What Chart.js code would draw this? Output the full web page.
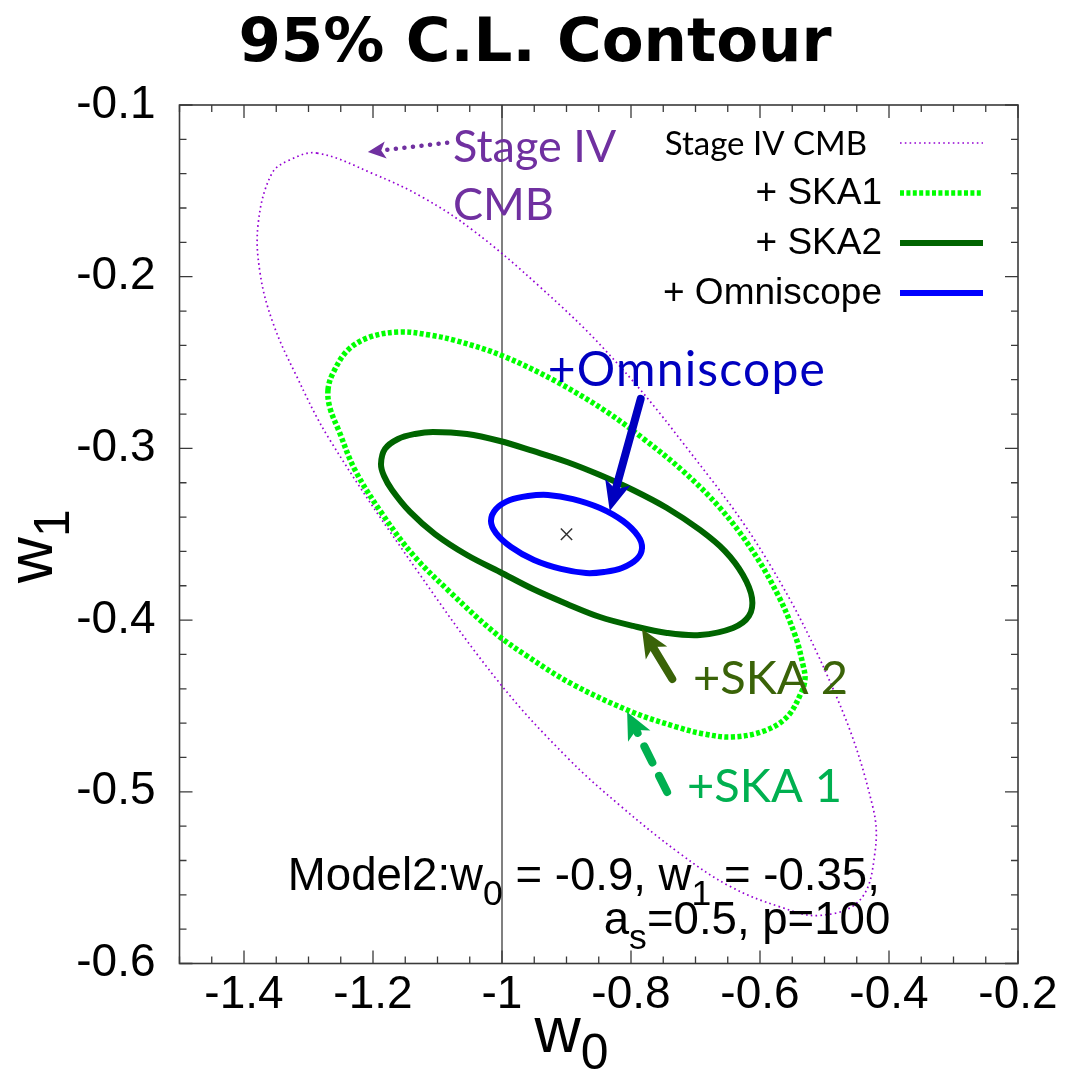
<!DOCTYPE html>
<html><head><meta charset="utf-8">
<script src="https://cdn.jsdelivr.net/npm/chart.js@4"></script>
<style>html,body{margin:0;padding:0;background:#fff;}#wrap{width:1066px;height:1071px;}</style>
</head><body><div id="wrap"><canvas id="c" width="1066" height="1071"></canvas></div>
<script>
// ---------- data ----------
const xTicks = [-1.4, -1.2, -1, -0.8, -0.6, -0.4, -0.2];
const yTicks = [-0.1, -0.2, -0.3, -0.4, -0.5, -0.6];

const cmbW0 = [-1.287, -1.200, -1.122, -1.045, -0.941, -0.837, -0.719, -0.589, -0.481, -0.425, -0.422, -0.445, -0.507, -0.569, -0.647, -0.724, -0.817, -0.899, -1.003, -1.132, -1.267, -1.321, -1.355, -1.375, -1.378, -1.357, -1.329];
const cmbW1 = [-0.128, -0.140, -0.154, -0.173, -0.206, -0.244, -0.297, -0.365, -0.445, -0.509, -0.536, -0.563, -0.572, -0.567, -0.555, -0.536, -0.508, -0.480, -0.437, -0.371, -0.295, -0.256, -0.227, -0.198, -0.169, -0.140, -0.132];

const ska1W0 = [-1.2698, -1.2620, -1.2388, -1.2047, -1.1581, -1.1116, -1.0698, -0.9984, -0.9147, -0.8372, -0.7783, -0.7194, -0.6620, -0.6124, -0.5721, -0.5457, -0.5333, -0.5302, -0.5364, -0.5581, -0.5938, -0.6434, -0.6868, -0.7287, -0.7984, -0.8915, -0.9612, -1.0109, -1.0791, -1.1364, -1.1845, -1.2279, -1.2527, -1.2667];
const ska1W1 = [-0.2660, -0.2561, -0.2427, -0.2351, -0.2322, -0.2340, -0.2374, -0.2462, -0.2613, -0.2788, -0.2951, -0.3132, -0.3347, -0.3592, -0.3854, -0.4087, -0.4262, -0.4343, -0.4425, -0.4564, -0.4646, -0.4681, -0.4663, -0.4623, -0.4535, -0.4372, -0.4209, -0.4075, -0.3842, -0.3627, -0.3388, -0.3126, -0.2899, -0.2765];

const ska2W0 = [-1.1876, -1.1814, -1.1612, -1.1349, -1.1070, -1.0543, -1.0031, -0.9519, -0.8992, -0.8481, -0.7969, -0.7442, -0.6930, -0.6543, -0.6264, -0.6124, -0.6171, -0.6419, -0.6930, -0.7442, -0.7969, -0.8481, -0.8992, -0.9519, -1.0031, -1.0543, -1.1039, -1.1426, -1.1705, -1.1829];
const ska2W1 = [-0.3091, -0.3003, -0.2945, -0.2916, -0.2904, -0.2916, -0.2957, -0.3015, -0.3079, -0.3155, -0.3242, -0.3347, -0.3475, -0.3598, -0.3737, -0.3871, -0.3976, -0.4046, -0.4087, -0.4075, -0.4034, -0.3982, -0.3906, -0.3819, -0.3720, -0.3621, -0.3499, -0.3370, -0.3242, -0.3161];

const omniW0 = [-1.0171, -1.0093, -0.9876, -0.9597, -0.9287, -0.8899, -0.8481, -0.8124, -0.7891, -0.7829, -0.7907, -0.8140, -0.8419, -0.8698, -0.9085, -0.9504, -0.9860, -1.0093];
const omniW1 = [-0.3423, -0.3353, -0.3301, -0.3277, -0.3271, -0.3295, -0.3347, -0.3423, -0.3510, -0.3580, -0.3644, -0.3697, -0.3720, -0.3726, -0.3702, -0.3650, -0.3574, -0.3493];

const fidW0 = [-0.9];
const fidW1 = [-0.35];

const refLineW0 = [-1, -1];
const refLineW1 = [-0.1, -0.6];

const seriesLabels = ['Stage IV CMB', '+ SKA1', '+ SKA2', '+ Omniscope'];

// ---------- helpers ----------
const pts = (xs, ys) => xs.map((x, i) => ({x: x, y: ys[i]}));
const SANS = '"Liberation Sans", Arial, Helvetica, sans-serif';
const HUM = 'Lato, "Open Sans", sans-serif';

function richWidth(ctx, parts, size, family) {
  let w = 0;
  parts.forEach(p => { ctx.font = (p.sub ? size * 0.78 : size) + 'px ' + family; w += ctx.measureText(p.t).width; });
  return w;
}
function drawRich(ctx, parts, x, y, size, family, align, subShift) {
  let cx = align === 'right' ? x - richWidth(ctx, parts, size, family) : x;
  ctx.textAlign = 'left'; ctx.textBaseline = 'alphabetic';
  parts.forEach(p => {
    ctx.font = (p.sub ? size * 0.78 : size) + 'px ' + family;
    ctx.fillText(p.t, cx, p.sub ? y + subShift : y);
    cx += ctx.measureText(p.t).width;
  });
}
function arrow(ctx, x1, y1, x2, y2, o) {
  const ang = Math.atan2(y2 - y1, x2 - x1);
  const bx = x2 - o.head * Math.cos(ang), by = y2 - o.head * Math.sin(ang);
  ctx.save();
  ctx.strokeStyle = o.color; ctx.fillStyle = o.color; ctx.lineWidth = o.width;
  ctx.lineCap = o.cap || 'round';
  if (o.dash) ctx.setLineDash(o.dash);
  ctx.beginPath(); ctx.moveTo(x1, y1);
  ctx.lineTo(x2 - (o.head * 0.8) * Math.cos(ang), y2 - (o.head * 0.8) * Math.sin(ang));
  ctx.stroke();
  ctx.setLineDash([]);
  const hw = o.hw / 2;
  ctx.beginPath();
  ctx.moveTo(x2, y2);
  ctx.lineTo(bx + hw * Math.sin(ang), by - hw * Math.cos(ang));
  ctx.lineTo(bx + o.head * 0.25 * Math.cos(ang), by + o.head * 0.25 * Math.sin(ang));
  ctx.lineTo(bx - hw * Math.sin(ang), by + hw * Math.cos(ang));
  ctx.closePath(); ctx.fill();
  ctx.restore();
}

// close contour loops smoothly
const loopPlugin = {
  id: 'loopClose',
  afterDatasetUpdate(chart, args) {
    const ds = chart.data.datasets[args.index];
    if (ds.closed) {
      const line = args.meta.dataset;
      line._loop = true; line._fullLoop = true;
      line._segments = undefined; line._pointsUpdated = false; line._path = undefined;
    }
  }
};

// frame with inward ticks on four sides
const framePlugin = {
  id: 'frame',
  afterDatasetsDraw(chart) {
    const {ctx, chartArea: a, scales: {x, y}} = chart;
    ctx.save();
    ctx.strokeStyle = '#3a3a3a'; ctx.lineWidth = 1.6;
    ctx.strokeRect(a.left, a.top, a.right - a.left, a.bottom - a.top);
    ctx.lineWidth = 1.3;
    ctx.beginPath();
    for (let i = 0; i <= 26; i++) {
      const v = -1.5 + i * 0.05;
      const major = Math.abs(Math.round(v * 5) - v * 5) < 1e-6;
      const L = major ? 13 : 7;
      const px = x.getPixelForValue(v);
      ctx.moveTo(px, a.bottom); ctx.lineTo(px, a.bottom - L);
      ctx.moveTo(px, a.top); ctx.lineTo(px, a.top + L);
    }
    for (let i = 0; i <= 25; i++) {
      const v = -0.6 + i * 0.02;
      const major = Math.abs(Math.round(v * 10) - v * 10) < 1e-6;
      const L = major ? 13 : 7;
      const py = y.getPixelForValue(v);
      ctx.moveTo(a.left, py); ctx.lineTo(a.left + L, py);
      ctx.moveTo(a.right, py); ctx.lineTo(a.right - L, py);
    }
    ctx.stroke();
    ctx.restore();
  }
};

// legend, annotations, titles
const decorPlugin = {
  id: 'decor',
  afterDraw(chart) {
    const {ctx, chartArea: a, scales: {x, y}} = chart;
    const X = v => x.getPixelForValue(v), Y = v => y.getPixelForValue(v);
    ctx.save();

    // title
    ctx.fillStyle = '#000';
    ctx.font = 'bold 61px "DejaVu Sans", Verdana, sans-serif';
    ctx.textAlign = 'center'; ctx.textBaseline = 'alphabetic';
    ctx.fillText('95% C.L. Contour', 535, 61);

    // axis titles
    drawRich(ctx, [{t: 'w'}, {t: '0', sub: true}], a.left + 355, a.bottom + 88, 64, SANS, 'left', 17);
    ctx.save();
    ctx.translate(a.left - 128, (a.top + a.bottom) / 2 + 49);
    ctx.rotate(-Math.PI / 2);
    drawRich(ctx, [{t: 'w'}, {t: '1', sub: true}], 0, 0, 64, SANS, 'left', 17);
    ctx.restore();

    // legend
    const ds = chart.data.datasets;
    for (let i = 0; i < 4; i++) {
      const d = ds[i];
      const ry = a.top + 38 + 50 * i;
      const x2 = a.right - 35, x1 = x2 - 83;
      ctx.save();
      ctx.strokeStyle = d.borderColor; ctx.lineWidth = d.borderWidth;
      ctx.setLineDash(d.borderDash || []); ctx.lineCap = 'butt';
      ctx.beginPath(); ctx.moveTo(x1, ry); ctx.lineTo(x2, ry); ctx.stroke();
      ctx.restore();
      ctx.fillStyle = '#000'; ctx.textAlign = 'right'; ctx.textBaseline = 'middle';
      ctx.font = i === 0 ? '33px ' + HUM : '37px ' + SANS;
      ctx.fillText(d.label, x1 - (i === 0 ? 33 : 18), ry + 1);
    }

    // annotations
    ctx.textAlign = 'left'; ctx.textBaseline = 'alphabetic';
    ctx.fillStyle = '#7030a0'; ctx.font = '45px ' + HUM;
    ctx.fillText('Stage IV', X(-1.076), Y(-0.1332));
    ctx.fillText('CMB', X(-1.076), Y(-0.167));
    arrow(ctx, X(-1.085), Y(-0.122), X(-1.208), Y(-0.1274), {color: '#7030a0', width: 4.5, head: 18, hw: 17, dash: [0.1, 8.5]});

    ctx.fillStyle = '#0000c0'; ctx.font = '48px ' + HUM;
    if ('letterSpacing' in ctx) ctx.letterSpacing = '1.2px';
    ctx.fillText('+Omniscope', X(-0.929), Y(-0.2637));
    if ('letterSpacing' in ctx) ctx.letterSpacing = '0px';
    arrow(ctx, X(-0.785), Y(-0.2712), X(-0.833), Y(-0.3365), {color: '#0000c0', width: 8, head: 30, hw: 26});

    ctx.fillStyle = '#3a6308'; ctx.font = '47px ' + HUM;
    ctx.fillText('+SKA 2', X(-0.704), Y(-0.443));
    arrow(ctx, X(-0.736), Y(-0.4343), X(-0.783), Y(-0.4052), {color: '#3a6308', width: 8, head: 28, hw: 25});

    ctx.fillStyle = '#00b050'; ctx.font = '47px ' + HUM;
    ctx.fillText('+SKA 1', X(-0.713), Y(-0.506));
    arrow(ctx, X(-0.744), Y(-0.5001), X(-0.806), Y(-0.4535), {color: '#00b050', width: 8, head: 27, hw: 25, dash: [18, 15]});

    // model text
    ctx.fillStyle = '#000';
    drawRich(ctx, [{t: 'Model2:w'}, {t: '0', sub: true}, {t: ' = -0.9, w'}, {t: '1', sub: true}, {t: ' = -0.35,'}], X(-1.332), Y(-0.557), 45.6, SANS, 'left', 15);
    drawRich(ctx, [{t: 'a'}, {t: 's', sub: true}, {t: '=0.5, p=100'}], X(-0.398), Y(-0.583), 45.6, SANS, 'right', 15);

    ctx.restore();
  }
};

const fmt = v => String(Math.round(v * 10) / 10);

new Chart(document.getElementById('c'), {
  type: 'scatter',
  data: {
    datasets: [
      {label: seriesLabels[0], data: pts(cmbW0, cmbW1), showLine: true, closed: true, tension: 0.38, borderColor: 'rgb(148,0,211)', borderWidth: 1.7, borderDash: [1.6, 3.2], pointRadius: 0, fill: false},
      {label: seriesLabels[1], data: pts(ska1W0, ska1W1), showLine: true, closed: true, tension: 0.36, borderColor: 'rgb(0,255,0)', borderWidth: 5.5, borderDash: [4, 2.4], pointRadius: 0, fill: false},
      {label: seriesLabels[2], data: pts(ska2W0, ska2W1), showLine: true, closed: true, tension: 0.36, borderColor: 'rgb(0,100,0)', borderWidth: 6, pointRadius: 0, fill: false},
      {label: seriesLabels[3], data: pts(omniW0, omniW1), showLine: true, closed: true, tension: 0.36, borderColor: 'rgb(0,0,255)', borderWidth: 6, pointRadius: 0, fill: false},
      {label: 'w0 = -1', data: pts(refLineW0, refLineW1), showLine: true, tension: 0, borderColor: '#808080', borderWidth: 2, pointRadius: 0},
      {label: 'fiducial', data: pts(fidW0, fidW1), showLine: false, pointStyle: 'crossRot', pointRadius: 8, borderColor: '#333', borderWidth: 1.5, backgroundColor: '#333'}
    ]
  },
  options: {
    responsive: false, devicePixelRatio: 1, animation: false,
    layout: {padding: {left: 0, right: 48, top: 105, bottom: 0}},
    plugins: {legend: {display: false}, tooltip: {enabled: false}, title: {display: false}},
    scales: {
      x: {
        type: 'linear', min: -1.5, max: -0.2,
        afterBuildTicks: s => { s.ticks = xTicks.map(v => ({value: v})); },
        afterFit: s => { s.height = 107.5; },
        grid: {display: false, drawTicks: false}, border: {display: false},
        ticks: {font: {family: SANS, size: 46}, color: '#000', padding: 4, maxRotation: 0, autoSkip: false, callback: v => fmt(v)}
      },
      y: {
        type: 'linear', min: -0.6, max: -0.1,
        afterBuildTicks: s => { s.ticks = yTicks.map(v => ({value: v})); },
        afterFit: s => { s.width = 179.5; },
        grid: {display: false, drawTicks: false}, border: {display: false},
        ticks: {font: {family: SANS, size: 46}, color: '#000', padding: 24, autoSkip: false, callback: v => fmt(v)}
      }
    }
  },
  plugins: [loopPlugin, framePlugin, decorPlugin]
});
</script>
</body></html>
